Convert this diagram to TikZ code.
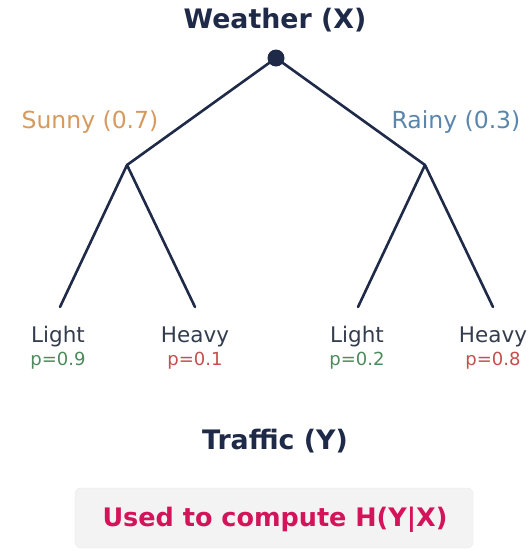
\documentclass[tikz,border=0pt]{standalone}
\usepackage{fontspec}
\setmainfont{DejaVu Sans}
\definecolor{navy}{HTML}{1E2A47}
\definecolor{sunnyc}{HTML}{D69A5E}
\definecolor{rainyc}{HTML}{5B86AB}
\definecolor{greenc}{HTML}{4E8B5C}
\definecolor{redc}{HTML}{C4504D}
\definecolor{leafc}{HTML}{333D4D}
\definecolor{crimson}{HTML}{D4145A}
\definecolor{boxfill}{HTML}{F3F3F3}
\begin{document}
\begin{tikzpicture}[x=1pt,y=-1pt,
  edge/.style={draw=navy,line width=2.6pt,line cap=round,line join=round},
  titletext/.style={font=\fontsize{26.8}{32}\selectfont\bfseries,text=navy,inner sep=0pt},
  branchtext/.style={font=\fontsize{23.5}{28}\selectfont,inner sep=0pt},
  leaftext/.style={font=\fontsize{21.5}{26}\selectfont,text=leafc,inner sep=0pt},
  probtext/.style={font=\fontsize{18}{22}\selectfont,inner sep=0pt}]
\useasboundingbox (0,0) rectangle (532,552);
\fill[white] (0,0) rectangle (532,552);
% title
\node[titletext] (title) at (275,20) {Weather (X)};
% tree
\coordinate (mL) at (127,165);
\coordinate (mR) at (425,165);
\coordinate (lLL) at (60,307);
\coordinate (lLR) at (195,307);
\coordinate (lRL) at (358,307);
\coordinate (lRR) at (493,307);
\draw[edge] (mL) -- (276,58) -- (mR);
\draw[edge] (lLL) -- (mL) -- (lLR);
\draw[edge] (lRL) -- (mR) -- (lRR);
\node[circle,fill=navy,minimum size=17pt,inner sep=0pt] (root) at (276,58) {};
% branch labels
\node[branchtext,text=sunnyc] (sunny) at (90,122) {Sunny (0.7)};
\node[branchtext,text=rainyc] (rainy) at (456,122) {Rainy (0.3)};
% leaves
\node[leaftext] (t1) at (58,337) {Light};
\node[probtext,text=greenc] (p1) at (58,361) {p=0.9};
\node[leaftext] (t2) at (195,337) {Heavy};
\node[probtext,text=redc] (p2) at (195,361) {p=0.1};
\node[leaftext] (t3) at (357,337) {Light};
\node[probtext,text=greenc] (p3) at (357,361) {p=0.2};
\node[leaftext] (t4) at (493,337) {Heavy};
\node[probtext,text=redc] (p4) at (493,361) {p=0.8};
% traffic
\node[titletext] (traffic) at (275,441) {Traffic (Y)};
% box
\node[draw=boxfill!90!black!60,line width=0.4pt,fill=boxfill,rounded corners=6pt,minimum width=398pt,minimum height=60pt,inner sep=0pt] (box) at (274,518) {};
\node[font=\fontsize{25.5}{30}\selectfont\bfseries,text=crimson,inner sep=0pt] (boxtext) at (275,520) {Used to compute H(Y|X)};
\end{tikzpicture}
\end{document}
